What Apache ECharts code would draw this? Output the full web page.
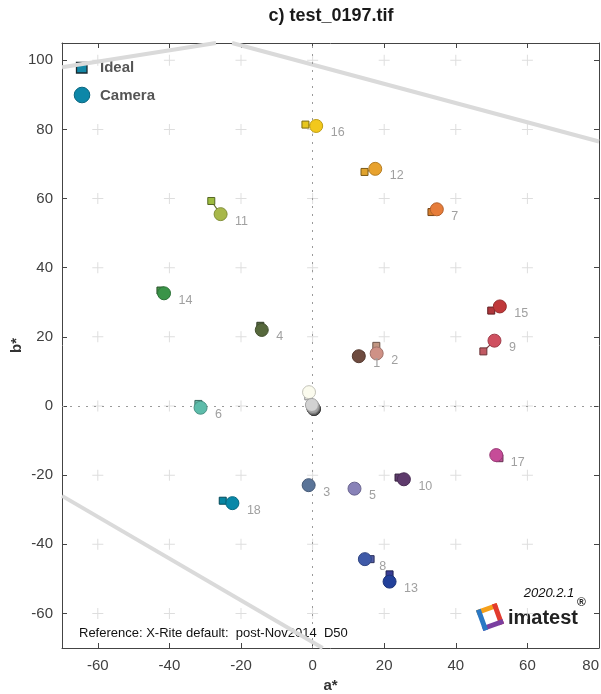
<!DOCTYPE html>
<html>
<head>
<meta charset="utf-8">
<script src="https://cdn.jsdelivr.net/npm/echarts@6/dist/echarts.min.js"></script>
<style>
  html, body { margin: 0; padding: 0; background: #fff; }
  #chart { width: 601px; height: 694px; }
</style>
</head>
<body>
<div id="chart"></div>
<script>
// tick labels
const xTicks = [-60, -40, -20, 0, 20, 40, 60, 80];
const yTicks = [-60, -40, -20, 0, 20, 40, 60, 80, 100];

// patches 1..24 (ColorChecker)
const patchIds = [1, 2, 3, 4, 5, 6, 7, 8, 9, 10, 11, 12, 13, 14, 15, 16, 17, 18, 19, 20, 21, 22, 23, 24];
const idealA = [13.4, 17.8, -1.3, -14.6, 12.0, -31.9, 33.2, 16.2, 47.7, 24.0, -28.3, 14.5, 21.5, -42.5, 49.9, -2.0, 52.2, -25.1, -1.2, 0.0, 0.0, 0.0, 0.0, 0.0];
const idealB = [14.6, 17.4, -23.0, 23.2, -23.6, 0.6, 56.1, -44.3, 15.8, -20.7, 59.3, 67.7, -48.7, 33.4, 27.6, 81.4, -15.1, -27.4, 2.8, 0.0, 0.0, 0.0, 0.0, 0.0];
const cameraA = [12.9, 17.9, -1.1, -14.2, 11.7, -31.3, 34.7, 14.6, 50.8, 25.5, -25.7, 17.5, 21.5, -41.5, 52.3, 1.0, 51.3, -22.4, -1.0, -0.2, 0.1, 0.2, 0.3, 0.4];
const cameraB = [14.4, 15.2, -22.9, 22.0, -23.9, -0.5, 56.9, -44.3, 18.9, -21.2, 55.5, 68.6, -50.8, 32.6, 28.8, 81.0, -14.2, -28.1, 4.0, 0.3, -0.3, -0.6, -0.8, -0.9];
const idealColors = ['#735244', '#c29682', '#627a9d', '#576c43', '#8580b1', '#67bdaa', '#d67e2c', '#505ba6', '#c15a63', '#5e3c6c', '#9dbc40', '#e0a32e', '#383d96', '#469449', '#af363c', '#e7c71f', '#bb5695', '#0885a1', '#f3f3f2', '#c8c8c8', '#a0a0a0', '#7a7a7a', '#555555', '#343434'];
const cameraColors = ['#6e4b3f', '#cf9186', '#5a7498', '#56683c', '#8882b8', '#5dbcaa', '#e67c3a', '#3f5aa8', '#cf5060', '#5e3a6c', '#a8b84a', '#e8a22e', '#22409a', '#3a9448', '#c0383a', '#f2c81c', '#c64c98', '#0888a8', '#fbfbee', '#d2d2d2', '#a2a2a2', '#7a7a7a', '#555555', '#343434'];
// draw order (light greys end up on top)
const drawOrder = [0, 1, 2, 3, 4, 5, 6, 7, 8, 9, 10, 11, 12, 13, 14, 15, 16, 17, 18, 23, 22, 21, 20, 19];

// grey gamut boundary pieces
const gamutLine1 = [[-70, 98], [-27, 105]];
const gamutLine2 = [[-22.5, 105], [80, 76.5]];
const gamutLine3 = [[-70, -26], [2.8, -70]];

const FONT = "'Liberation Sans', Arial, Helvetica, sans-serif";

function darken(hex, k) {
  const n = parseInt(hex.slice(1), 16);
  const r = Math.round(((n >> 16) & 255) * k);
  const g = Math.round(((n >> 8) & 255) * k);
  const b = Math.round((n & 255) * k);
  return 'rgb(' + r + ',' + g + ',' + b + ')';
}

const crossData = [];
xTicks.filter(v => v < 80).forEach(x => {
  yTicks.forEach(y => crossData.push([x, y]));
});

const linkData = drawOrder.map(i => ({
  coords: [[idealA[i], idealB[i]], [cameraA[i], cameraB[i]]],
  lineStyle: { color: darken(idealColors[i], 0.6) }
}));

const idealData = drawOrder.map(i => ({
  value: [idealA[i], idealB[i]],
  itemStyle: { color: idealColors[i], borderColor: darken(idealColors[i], 0.55) }
}));

const cameraData = drawOrder.map(i => ({
  value: [cameraA[i], cameraB[i], patchIds[i]],
  itemStyle: { color: cameraColors[i], borderColor: darken(cameraColors[i], 0.78) },
  label: { show: patchIds[i] <= 18 }
}));

const axisColor = '#444';

// logo frame corners
const logoC = [490, 617], logoS = 8.5, logoRot = -20 * Math.PI / 180;
function corner(dx, dy) {
  return [logoC[0] + dx * Math.cos(logoRot) - dy * Math.sin(logoRot),
          logoC[1] + dx * Math.sin(logoRot) + dy * Math.cos(logoRot)];
}
const lc = [corner(-logoS, -logoS), corner(logoS, -logoS), corner(logoS, logoS), corner(-logoS, logoS)];
const logoColors = ['#f5a01a', '#e23b2e', '#7a3fa0', '#2a78c4'];

const chart = echarts.init(document.getElementById('chart'));
chart.setOption({
  backgroundColor: '#fff',
  animation: false,
  grid: { left: 62, right: 2, top: 43, bottom: 46, containLabel: false, outerBoundsMode: 'none' },
  xAxis: [
    {
      type: 'value', min: -70, max: 80, position: 'bottom',
      name: 'a*', nameLocation: 'middle', nameGap: 30, nameMoveOverlap: false,
      nameTextStyle: { fontFamily: FONT, fontSize: 15, fontWeight: 'bold', color: '#333' },
      axisLine: { show: true, onZero: false, lineStyle: { color: axisColor } },
      axisTick: { show: true, inside: true, length: 5, customValues: xTicks, lineStyle: { color: axisColor } },
      axisLabel: { customValues: xTicks, alignMaxLabel: 'right', fontFamily: FONT, fontSize: 15, color: '#404040', margin: 10 },
      splitLine: { show: false }
    },
    {
      type: 'value', min: -70, max: 80, position: 'top',
      axisLine: { show: true, onZero: false, lineStyle: { color: axisColor } },
      axisTick: { show: true, inside: true, length: 5, customValues: xTicks, lineStyle: { color: axisColor } },
      axisLabel: { show: false },
      splitLine: { show: false }
    }
  ],
  yAxis: [
    {
      type: 'value', min: -70, max: 105, position: 'left',
      name: 'b*', nameLocation: 'middle', nameGap: 38, nameMoveOverlap: false,
      nameTextStyle: { fontFamily: FONT, fontSize: 15, fontWeight: 'bold', color: '#333' },
      axisLine: { show: true, onZero: false, lineStyle: { color: axisColor } },
      axisTick: { show: true, inside: true, length: 5, customValues: yTicks, lineStyle: { color: axisColor } },
      axisLabel: { customValues: yTicks, fontFamily: FONT, fontSize: 15, color: '#404040', margin: 9 },
      splitLine: { show: false }
    },
    {
      type: 'value', min: -70, max: 105, position: 'right',
      axisLine: { show: true, onZero: false, lineStyle: { color: axisColor } },
      axisTick: { show: true, inside: true, length: 5, customValues: yTicks, lineStyle: { color: axisColor } },
      axisLabel: { show: false },
      splitLine: { show: false }
    }
  ],
  series: [
    {
      name: 'grid',
      type: 'scatter',
      silent: true,
      z: 1,
      symbol: 'path://M5,0h1v5h5v1h-5v5h-1v-5h-5v-1h5z',
      symbolSize: 11,
      itemStyle: { color: '#d6d6d6' },
      data: crossData,
      markLine: {
        silent: true,
        symbol: 'none',
        label: { show: false },
        lineStyle: { color: '#9a9a9a', type: [2, 6], width: 1 },
        data: [{ xAxis: 0 }, { yAxis: 0 }]
      }
    },
    {
      name: 'gamut',
      type: 'lines',
      coordinateSystem: 'cartesian2d',
      silent: true,
      z: 2,
      lineStyle: { color: '#dadada', width: 4, opacity: 1 },
      data: [{ coords: gamutLine1 }, { coords: gamutLine2 }, { coords: gamutLine3 }]
    },
    {
      name: 'links',
      type: 'lines',
      coordinateSystem: 'cartesian2d',
      silent: true,
      z: 3,
      lineStyle: { width: 1.2, opacity: 1 },
      data: linkData
    },
    {
      name: 'Ideal',
      type: 'scatter',
      z: 4,
      symbol: 'rect',
      symbolSize: 7,
      itemStyle: { borderWidth: 1, opacity: 1 },
      data: idealData
    },
    {
      name: 'Camera',
      type: 'scatter',
      z: 5,
      symbol: 'circle',
      symbolSize: 13,
      itemStyle: { borderWidth: 1, opacity: 1 },
      label: {
        position: 'right',
        distance: 7.5,
        offset: [0, 7],
        fontFamily: FONT,
        fontSize: 12.5,
        color: '#a0a0a0',
        formatter: p => String(p.value[2])
      },
      data: cameraData
    }
  ],
  graphic: [
    { type: 'text', x: 331, y: 16,
      style: { text: 'c) test_0197.tif', font: 'bold 18px ' + FONT, fill: '#1a1a1a', textAlign: 'center', textVerticalAlign: 'middle' } },
    { type: 'rect', shape: { x: 76.5, y: 62.5, width: 10.5, height: 10.5 },
      style: { fill: '#1387a6', stroke: '#1a2a30', lineWidth: 1.3 } },
    { type: 'text', x: 100, y: 68,
      style: { text: 'Ideal', font: 'bold 15px ' + FONT, fill: '#555', textVerticalAlign: 'middle' } },
    { type: 'circle', shape: { cx: 82, cy: 95, r: 7.8 },
      style: { fill: '#0d87a8', stroke: '#0a6680', lineWidth: 1 } },
    { type: 'text', x: 100, y: 95.5,
      style: { text: 'Camera', font: 'bold 15px ' + FONT, fill: '#555', textVerticalAlign: 'middle' } },
    { type: 'text', x: 79, y: 633,
      style: { text: 'Reference: X-Rite default:  post-Nov2014  D50', font: '13px ' + FONT, fill: '#111', textVerticalAlign: 'middle' } },
    { type: 'text', x: 549, y: 593,
      style: { text: '2020.2.1', font: 'italic 13px ' + FONT, fill: '#111', textAlign: 'center', textVerticalAlign: 'middle' } },
    { type: 'polyline', shape: { points: [lc[0], lc[1]] }, style: { stroke: logoColors[0], lineWidth: 5, lineCap: 'square' } },
    { type: 'polyline', shape: { points: [lc[1], lc[2]] }, style: { stroke: logoColors[1], lineWidth: 5, lineCap: 'square' } },
    { type: 'polyline', shape: { points: [lc[2], lc[3]] }, style: { stroke: logoColors[2], lineWidth: 5, lineCap: 'square' } },
    { type: 'polyline', shape: { points: [lc[3], lc[0]] }, style: { stroke: logoColors[3], lineWidth: 5, lineCap: 'square' } },
    { type: 'text', x: 508, y: 618,
      style: { text: 'imatest', font: 'bold 20px ' + FONT, fill: '#222', textVerticalAlign: 'middle' } },
    { type: 'text', x: 577, y: 603,
      style: { text: '®', font: 'bold 12px ' + FONT, fill: '#222', textVerticalAlign: 'middle' } }
  ]
});
</script>
</body>
</html>
